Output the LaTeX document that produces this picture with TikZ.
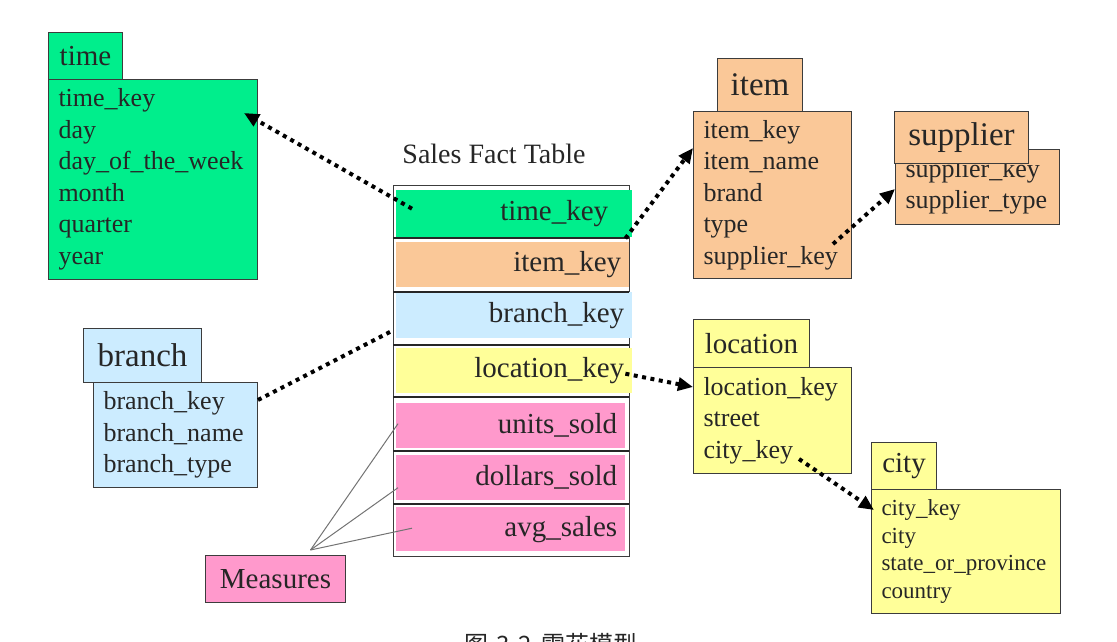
\documentclass[tikz,border=0pt]{standalone}
\usepackage{fontspec}
\setmainfont{Liberation Serif}
\newfontfamily\cjk{Noto Sans CJK SC}
\usetikzlibrary{arrows.meta}

\definecolor{tgreen}{RGB}{0,238,140}
\definecolor{torange}{RGB}{250,200,152}
\definecolor{tblue}{RGB}{204,236,255}
\definecolor{tyellow}{RGB}{255,255,153}
\definecolor{tpink}{RGB}{255,153,204}
\definecolor{tline}{RGB}{60,60,60}

\tikzset{
 hdr/.style={draw=tline, line width=1pt, anchor=north west, inner sep=0pt,
   text=black!85, font=\fontsize{29}{29}\selectfont},
 hdrbig/.style={hdr, font=\fontsize{33}{33}\selectfont},
 body/.style={draw=tline, line width=1pt, anchor=north west, inner xsep=10pt,
   inner ysep=0pt, align=left, text=black!85, font=\fontsize{26}{31.5}\selectfont},
 row/.style={anchor=north west, inner xsep=8pt, inner ysep=0pt, align=right,
   text=black!85, font=\fontsize{29}{29}\selectfont},
 link/.style={line width=4pt, dash pattern=on 4pt off 4.5pt, black},
 linkarrow/.style={link, -{Triangle[length=15pt,width=13pt]}},
 measline/.style={draw=black!55, line width=1pt}
}

\begin{document}
\begin{tikzpicture}[x=1pt, y=-1pt]
%\draw[help lines] (0,0) grid[step=50] (1117,642);
\useasboundingbox (0,0) rectangle (1117,642);

% time
\node[body, fill=tgreen, text width=189pt, minimum height=200pt] (timebody) at (48,79)
 {time\_key\\day\\day\_of\_the\_week\\month\\quarter\\year};
\node[hdr, fill=tgreen, minimum width=74pt, minimum height=47pt] (timehdr) at (48,32) {time};

% branch
\node[body, fill=tblue, text width=144pt, minimum height=105pt] (branchbody) at (93,382)
 {branch\_key\\branch\_name\\branch\_type};
\node[hdrbig, fill=tblue, minimum width=118pt, minimum height=54pt] (branchhdr) at (83,328) {branch};

% fact table
\node (facttitle) [font=\fontsize{28}{28}\selectfont, text=black!85] at (494,154) {Sales Fact Table};
\node[draw=tline, line width=1pt, anchor=north west, inner sep=0pt,
 minimum width=236pt, minimum height=371pt] (fact) at (393,185) {};
\node[row, fill=tgreen, text width=220pt, minimum height=47pt] (rtime) at (396,190) {time\_key\hspace*{16pt}};
\node[row, fill=torange, text width=217pt, minimum height=45pt] (ritem) at (396,242) {item\_key};
\node[row, fill=tblue, text width=220pt, minimum height=46pt] (rbranch) at (396,292) {branch\_key};
\node[row, fill=tyellow, text width=220pt, minimum height=45pt] (rloc) at (396,348) {location\_key};
\node[row, fill=tpink, text width=213pt, minimum height=45pt] (runits) at (396,403) {units\_sold};
\node[row, fill=tpink, text width=213pt, minimum height=45pt] (rdollars) at (396,455) {dollars\_sold};
\node[row, fill=tpink, text width=213pt, minimum height=44pt] (ravg) at (396,507) {avg\_sales};
\foreach \y in {238,292,345,397,451,504}
 \draw[line width=2pt, black!85] (393,\y) -- (629,\y);

% measures
\node[hdr, fill=tpink, minimum width=140pt, minimum height=47pt] (measures) at (205,555) {Measures};
\coordinate (mfoot) at ([shift={(35,-5)}]measures.north);
\draw[measline] (mfoot) -- ([shift={(2,-2)}]runits.west);
\draw[measline] (mfoot) -- ([shift={(2,10)}]rdollars.west);
\draw[measline] (mfoot) -- ([shift={(16,-1)}]ravg.west);

% item
\node[body, fill=torange, text width=138pt, minimum height=167pt] (itembody) at (693,111)
 {item\_key\\item\_name\\brand\\type\\supplier\_key};
\node[hdrbig, fill=torange, minimum width=85pt, minimum height=53pt] (itemhdr) at (717,58) {item};

% supplier
\node[body, fill=torange, text width=144pt, minimum height=75pt] (supbody) at (895,149)
 {supplier\_key\\supplier\_type};
\node[hdrbig, fill=torange, minimum width=134pt, minimum height=52pt] (suphdr) at (894,111) {supplier};

% location
\node[body, fill=tyellow, text width=138pt, minimum height=106pt] (locbody) at (693,367)
 {location\_key\\street\\city\_key};
\node[hdr, fill=tyellow, minimum width=116pt, minimum height=48pt] (lochdr) at (693,319) {location};

% city
\node[body, fill=tyellow, text width=169pt, minimum height=124pt,
 font=\fontsize{23}{27.7}\selectfont] (citybody) at (871,489)
 {city\_key\\city\\state\_or\_province\\country};
\node[hdr, fill=tyellow, minimum width=65pt, minimum height=47pt] (cityhdr) at (871,442) {city};

% links
\draw[linkarrow] ([shift={(16,-5)}]rtime.west) -- ([shift={(-14,34)}]timebody.north east);
\draw[linkarrow] ([shift={(-7,1)}]rtime.south east) -- ([shift={(0,37)}]itembody.north west);
\draw[linkarrow] ([shift={(-19,-35)}]itembody.south east) -- ([shift={(0,2)}]supbody.west);
\draw[link] ([shift={(0,18)}]branchbody.north east) -- ([shift={(-3,-8)}]rbranch.south west);
\draw[linkarrow] ([shift={(-7,3)}]rloc.east) -- ([shift={(0,20)}]locbody.north west);
\draw[linkarrow] ([shift={(-53,-15)}]locbody.south east) -- ([shift={(3,21)}]citybody.north west);

% caption, cut off at the bottom as in the source
\node[anchor=north, inner sep=0pt, font=\cjk\fontsize{24}{24}\selectfont, text=black!85] (caption)
 at (551,633) {图\hspace{8pt}3-2\hspace{10pt}雪花模型};
\end{tikzpicture}
\end{document}
